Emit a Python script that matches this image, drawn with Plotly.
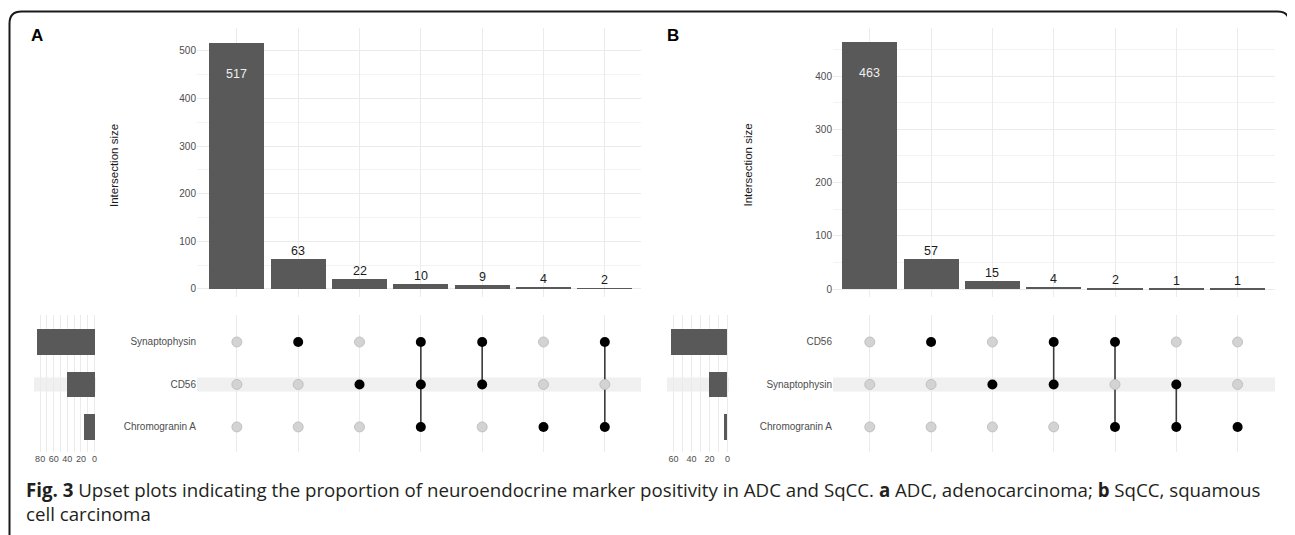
import plotly.graph_objects as go

# body margin of the page is 8px, so the figure is drawn from (8, 8)
OFF = 8
W, H = 1295 - OFF, 535 - OFF

# ---------------- data ----------------
# Panel A (ADC)
sets_A = ["Synaptophysin", "CD56", "Chromogranin A"]          # top -> bottom
set_size_A = [84, 41, 16]
inter_size_A = [517, 63, 22, 10, 9, 4, 2]
members_A = [[], ["Synaptophysin"], ["CD56"],
             ["Synaptophysin", "CD56", "Chromogranin A"],
             ["Synaptophysin", "CD56"], ["Chromogranin A"],
             ["Synaptophysin", "Chromogranin A"]]
set_ticks_A = [0, 20, 40, 60, 80]

# Panel B (SqCC)
sets_B = ["CD56", "Synaptophysin", "Chromogranin A"]
set_size_B = [63, 20, 4]
inter_size_B = [463, 57, 15, 4, 2, 1, 1]
members_B = [[], ["CD56"], ["Synaptophysin"], ["CD56", "Synaptophysin"],
             ["CD56", "Chromogranin A"], ["Synaptophysin", "Chromogranin A"],
             ["Chromogranin A"]]
set_ticks_B = [0, 20, 40, 60]

y_title = "Intersection size"
caption_1 = ("<b>Fig. 3</b> Upset plots indicating the proportion of neuroendocrine marker "
             "positivity in ADC and SqCC. <b>a</b> ADC, adenocarcinoma; <b>b</b> SqCC, squamous")
caption_2 = "cell carcinoma"

# ---------------- helpers ----------------
def PX(x):
    return (x - OFF) / W

def PY(y):
    return 1 - (y - OFF) / H

FONT = "Liberation Sans, Arial, sans-serif"
GRID = "#ebebeb"
BAR = "#595959"
TICK = "#4d4d4d"

fig = go.Figure()

panels = [
    dict(label="A", sets=sets_A, set_size=set_size_A, inter=inter_size_A, members=members_A,
         set_ticks=set_ticks_A, bar_x=(197, 641), bar_xr=[-0.65, 6.59], bar_yr=[-16.8, 547.6],
         set_x=(34, 96), set_r=[89, -2.2], title_x=114.5, label_x=36.7, ax=1),
    dict(label="B", sets=sets_B, set_size=set_size_B, inter=inter_size_B, members=members_B,
         set_ticks=set_ticks_B, bar_x=(833, 1275), bar_xr=[-0.6, 6.61], bar_yr=[-14.4, 490],
         set_x=(667, 729), set_r=[67.2, -1.7], title_x=748, label_x=673, ax=4),
]

bar_y = (28, 297)
mat_y = (315, 452)
mat_r = [-0.59, 2.635]

layout_axes = {}
annotations = []
shapes = []

for p in panels:
    a = p["ax"]
    xb, yb = f"x{a if a > 1 else ''}", f"y{a if a > 1 else ''}"
    xm, ym = f"x{a+1}", f"y{a+1}"
    xs, ys = f"x{a+2}", f"y{a+2}"
    n = len(p["sets"])
    cols = list(range(len(p["inter"])))
    row_of = {s: n - 1 - k for k, s in enumerate(p["sets"])}

    # intersection bars
    fig.add_trace(go.Bar(x=cols, y=p["inter"], xaxis=xb, yaxis=yb, width=0.9,
                         marker=dict(color=BAR, line=dict(width=0)), hoverinfo="skip"))
    # labels on bars
    for i, v in zip(cols, p["inter"]):
        inside = v > 200
        annotations.append(dict(
            x=i, y=v, xref=xb, yref=yb, text=str(v), showarrow=False, xanchor="center",
            yanchor="middle" if inside else "bottom", yshift=-31 if inside else -1,
            font=dict(family=FONT, size=12.5, color="#eeeeee" if inside else "#1a1a1a")))

    # matrix connecting lines
    for i, mem in zip(cols, p["members"]):
        if len(mem) >= 2:
            ys_ = [row_of[s] for s in mem]
            fig.add_trace(go.Scatter(x=[i, i], y=[min(ys_), max(ys_)], mode="lines",
                                     xaxis=xm, yaxis=ym, line=dict(color="#3a3a3a", width=1.6),
                                     hoverinfo="skip"))
    # matrix dots
    gx, gy, bx, by = [], [], [], []
    for i, mem in zip(cols, p["members"]):
        for s in p["sets"]:
            if s in mem:
                bx.append(i); by.append(row_of[s])
            else:
                gx.append(i); gy.append(row_of[s])
    fig.add_trace(go.Scatter(x=gx, y=gy, mode="markers", xaxis=xm, yaxis=ym,
                             marker=dict(size=10, color="#d3d3d3", line=dict(color="#b8b8b8", width=0.8)),
                             hoverinfo="skip"))
    fig.add_trace(go.Scatter(x=bx, y=by, mode="markers", xaxis=xm, yaxis=ym,
                             marker=dict(size=10, color="#000000"), hoverinfo="skip"))

    # set-size bars
    fig.add_trace(go.Bar(x=p["set_size"], y=[row_of[s] for s in p["sets"]], orientation="h",
                         xaxis=xs, yaxis=ys, width=0.6,
                         marker=dict(color=BAR, line=dict(width=0)), hoverinfo="skip"))

    bdx = [PX(p["bar_x"][0]), PX(p["bar_x"][1])]
    sdx = [PX(p["set_x"][0]), PX(p["set_x"][1])]
    bdy = [PY(bar_y[1]), PY(bar_y[0])]
    mdy = [PY(mat_y[1]), PY(mat_y[0])]

    # stripe on middle row (matrix + set size), in paper coordinates from the row scale
    row_px = (mat_y[1] - mat_y[0]) / (mat_r[1] - mat_r[0])
    y_mid = mat_y[1] - (1 - mat_r[0]) * row_px
    for dx in (bdx, sdx):
        shapes.append(dict(type="rect", xref="paper", yref="paper", x0=dx[0], x1=dx[1],
                           y0=PY(y_mid + 0.165 * row_px), y1=PY(y_mid - 0.165 * row_px),
                           fillcolor="#f0f0f0", line=dict(width=0), layer="below"))

    def key(prefix, idx):
        return f"{prefix}axis{idx if idx > 1 else ''}"

    layout_axes[key("x", a)] = dict(domain=bdx, range=p["bar_xr"], anchor=yb, showticklabels=False,
                                    tickmode="linear", tick0=0, dtick=1, showgrid=True, gridcolor=GRID,
                                    zeroline=False, showline=False, ticks="")
    layout_axes[key("y", a)] = dict(domain=bdy, range=p["bar_yr"], anchor=xb, tickmode="linear",
                                    tick0=0, dtick=100, showgrid=True, gridcolor=GRID,
                                    minor=dict(dtick=50, tick0=0, showgrid=True, gridcolor="#f3f3f3"),
                                    zeroline=False, ticks="",
                                    tickfont=dict(family=FONT, size=10, color=TICK))
    layout_axes[key("x", a + 1)] = dict(domain=bdx, range=p["bar_xr"], anchor=ym, showticklabels=False,
                                        tickmode="linear", tick0=0, dtick=1, showgrid=True,
                                        gridcolor=GRID, zeroline=False, ticks="")
    layout_axes[key("y", a + 1)] = dict(domain=mdy, range=mat_r, anchor=xm,
                                        tickvals=[row_of[s] for s in p["sets"]], ticktext=p["sets"],
                                        showgrid=False, zeroline=False, ticks="",
                                        tickfont=dict(family=FONT, size=10, color=TICK))
    layout_axes[key("x", a + 2)] = dict(domain=sdx, range=p["set_r"], anchor=ys,
                                        tickvals=p["set_ticks"], showgrid=True, gridcolor=GRID,
                                        minor=dict(dtick=10, tick0=0, showgrid=True, gridcolor=GRID),
                                        zeroline=False, ticks="",
                                        tickfont=dict(family=FONT, size=9, color=TICK))
    layout_axes[key("y", a + 2)] = dict(domain=mdy, range=mat_r, anchor=xs, showticklabels=False,
                                        showgrid=False, zeroline=False, ticks="")

    # y-axis title
    annotations.append(dict(x=PX(p["title_x"]), y=PY(165.5), xref="paper", yref="paper",
                            xanchor="center", yanchor="middle",
                            text=y_title, textangle=-90, showarrow=False,
                            font=dict(family=FONT, size=11.5, color="#1a1a1a")))
    # panel letter
    annotations.append(dict(x=PX(p["label_x"]), y=PY(35), xref="paper", yref="paper",
                            xanchor="center", yanchor="middle",
                            text=f"<b>{p['label']}</b>", showarrow=False,
                            font=dict(family=FONT, size=17, color="#000000")))

# caption
annotations.append(dict(x=PX(24), y=PY(490), xref="paper", yref="paper", xanchor="left",
                        yanchor="middle", text=caption_1, showarrow=False,
                        font=dict(family="Open Sans, sans-serif", size=18.7, color="#231f20")))
annotations.append(dict(x=PX(24), y=PY(513), xref="paper", yref="paper", xanchor="left",
                        yanchor="middle", text=caption_2, showarrow=False,
                        font=dict(family="Open Sans, sans-serif", size=18.7, color="#231f20")))

# rounded border (open at the bottom, continues off-canvas)
l, t, r, rad, b = 9.5, 11.5, 1289.5, 12, 560
path = (f"M {PX(l)},{PY(b)} L {PX(l)},{PY(t + rad)} Q {PX(l)},{PY(t)} {PX(l + rad)},{PY(t)} "
        f"L {PX(r - rad)},{PY(t)} Q {PX(r)},{PY(t)} {PX(r)},{PY(t + rad)} L {PX(r)},{PY(b)}")
shapes.append(dict(type="path", xref="paper", yref="paper", path=path,
                   line=dict(color="#1a1a1a", width=2)))

fig.update_layout(width=W, height=H, margin=dict(l=0, r=0, t=0, b=0),
                  paper_bgcolor="white", plot_bgcolor="white", showlegend=False,
                  bargap=0, annotations=annotations, shapes=shapes, **layout_axes)

fig.write_html("out.html")
